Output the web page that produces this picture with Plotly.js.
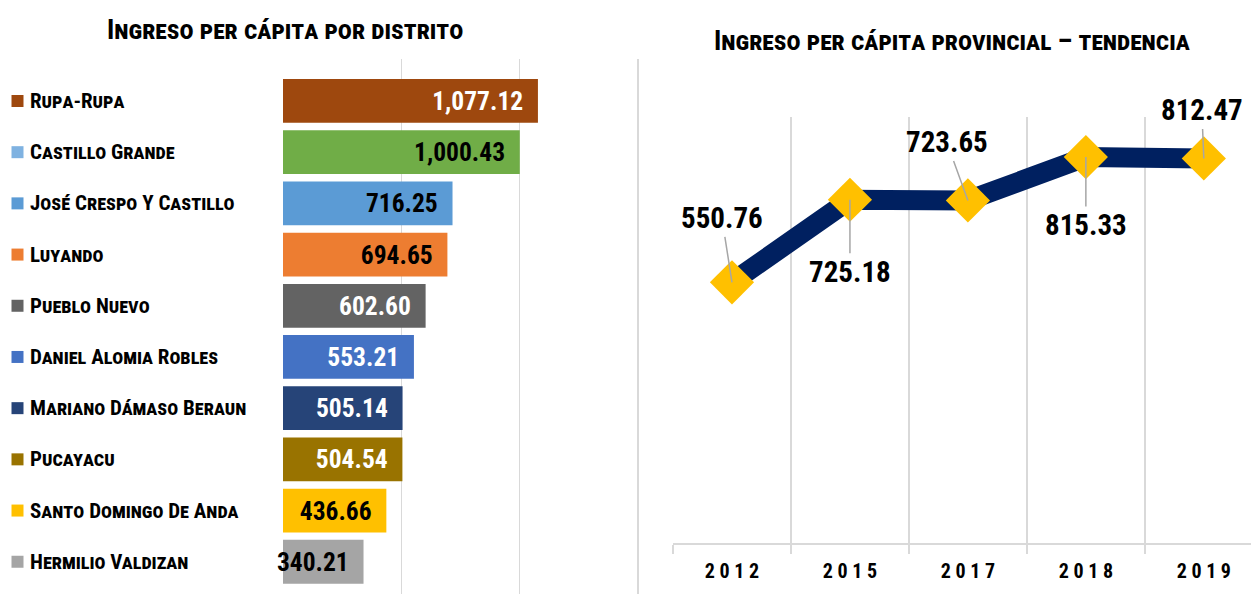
<!DOCTYPE html>
<html><head><meta charset="utf-8">
<script src="https://cdn.plot.ly/plotly-3.0.1.min.js"></script>
<style>html,body{margin:0;padding:0;background:#fff}#chart{width:1251px;height:594px}</style>
</head><body><div id="chart"></div>
<script>
// ---- data ----
const districts = ['Rupa-Rupa','Castillo Grande','José Crespo Y Castillo','Luyando','Pueblo Nuevo','Daniel Alomia Robles','Mariano Dámaso Beraun','Pucayacu','Santo Domingo De Anda','Hermilio Valdizan'];
const districtIncome = [1077.12,1000.43,716.25,694.65,602.60,553.21,505.14,504.54,436.66,340.21];
const barColors = ['#9E480E','#70AD47','#5B9BD5','#ED7D31','#636363','#4472C4','#264478','#997300','#FFC000','#A5A5A5'];
const legendColors = ['#9E480E','#7FB2E1','#5B9BD5','#ED7D31','#636363','#4472C4','#264478','#997300','#FFC000','#A5A5A5'];
const barLabelColors = ['#ffffff','#000000','#000000','#000000','#ffffff','#ffffff','#ffffff','#ffffff','#000000','#000000'];
const years = ['2012','2015','2017','2018','2019'];
const provincialIncome = [550.76,725.18,723.65,815.33,812.47];
const barTicks = [0,500,1000,1500];

// ---- style ----
const FONT = '"Roboto Condensed", "Liberation Sans Narrow", "DejaVu Sans Condensed", sans-serif';
const GRID = '#D9D9D9';
const calloutOffsets = [[-10,-64],[0,72],[-21,-58],[0,68],[-2,-48]];

const fmt = v => v.toLocaleString('en-US',{minimumFractionDigits:2,maximumFractionDigits:2});

const barTrace = {
  type:'bar', orientation:'h', x: districtIncome, y: districts,
  xaxis:'x', yaxis:'y', width:0.855,
  marker:{color:barColors},
  texttemplate:'%{x:,.2f}\u00a0\u00a0', textposition:'inside', insidetextanchor:'end',
  textangle:0, constraintext:'none',
  textfont:{family:FONT, size:25.5, weight:700, color:barLabelColors},
  hoverinfo:'skip', showlegend:false, cliponaxis:false
};

const legendTrace = {
  type:'scatter', mode:'markers', x: districts.map(()=>0), y: districts,
  xaxis:'x3', yaxis:'y',
  marker:{symbol:'square', size:12, color:legendColors},
  hoverinfo:'skip', showlegend:false, cliponaxis:false
};

const lineTrace = {
  type:'scatter', mode:'lines+markers', x: years, y: provincialIncome,
  xaxis:'x2', yaxis:'y2',
  line:{color:'#002060', width:20},
  marker:{symbol:'diamond', size:34, color:'#FFC000'},
  hoverinfo:'skip', showlegend:false, cliponaxis:false
};

const annotations = [];
// titles
annotations.push({xref:'paper', yref:'paper', x:285/1251, y:1-30/594, xanchor:'center', yanchor:'middle', showarrow:false,
  text:'Ingreso per cápita por distrito', font:{family:FONT, size:27, weight:700, variant:'small-caps', color:'#000'}});
annotations.push({xref:'paper', yref:'paper', x:952/1251, y:1-41/594, xanchor:'center', yanchor:'middle', showarrow:false,
  text:'Ingreso per cápita provincial – tendencia', font:{family:FONT, size:27, weight:700, variant:'small-caps', color:'#000'}});
// district labels
districts.forEach((d,i)=>{
  annotations.push({xref:'paper', yref:'y', x:28/1251, y:d, xanchor:'left', yanchor:'middle', showarrow:false,
    text:d, font:{family:FONT, size:21, weight:700, variant:'small-caps', color:'#000'}});
});
// callouts on the trend (category serial numbers on x2)
years.forEach((yr,i)=>{
  annotations.push({xref:'x2', yref:'y2', x:i, y:provincialIncome[i], text:fmt(provincialIncome[i]),
    showarrow:true, arrowhead:0, arrowwidth:1.5, arrowcolor:'#A6A6A6', standoff:0,
    ax:calloutOffsets[i][0], ay:calloutOffsets[i][1],
    font:{family:FONT, size:29, weight:700, color:'#000'}});
});

const layout = {
  width:1251, height:594, margin:{l:0,r:0,t:0,b:0},
  paper_bgcolor:'#fff', plot_bgcolor:'rgba(0,0,0,0)',
  showlegend:false,
  xaxis:{domain:[283/1251, 639.2/1251], range:[0,1505], tickvals:barTicks, showticklabels:false,
    showgrid:true, gridcolor:GRID, gridwidth:1.5, zeroline:false, showline:false, ticks:''},
  yaxis:{domain:[0, 1-59/594], type:'category', range:[9.63,-0.82], showticklabels:false,
    showgrid:false, zeroline:false, showline:false, ticks:''},
  xaxis3:{domain:[0, 0.1], anchor:'y', range:[-17.5, 107.6], visible:false},
  xaxis2:{domain:[673/1251, 1], anchor:'y2', type:'category', range:[-0.5,4.4],
    tickson:'boundaries', showgrid:true, gridcolor:GRID, gridwidth:1.5,
    showline:true, linecolor:GRID, linewidth:2, ticks:'outside', ticklen:9, tickcolor:GRID, tickwidth:2,
    tickvals:years, ticktext:years.map(y=>y.split('').join(' ')), ticklabelstandoff:9,
    tickfont:{family:FONT, size:20, weight:700, color:'#000'}, zeroline:false},
  yaxis2:{domain:[(594-543)/594, (594-117)/594], anchor:'x2', range:[0,900], showgrid:false,
    showticklabels:false, zeroline:false, showline:false, ticks:''},
  annotations:annotations
};

Plotly.newPlot('chart',[barTrace,legendTrace,lineTrace],layout,{displayModeBar:false, staticPlot:true});
</script></body></html>
